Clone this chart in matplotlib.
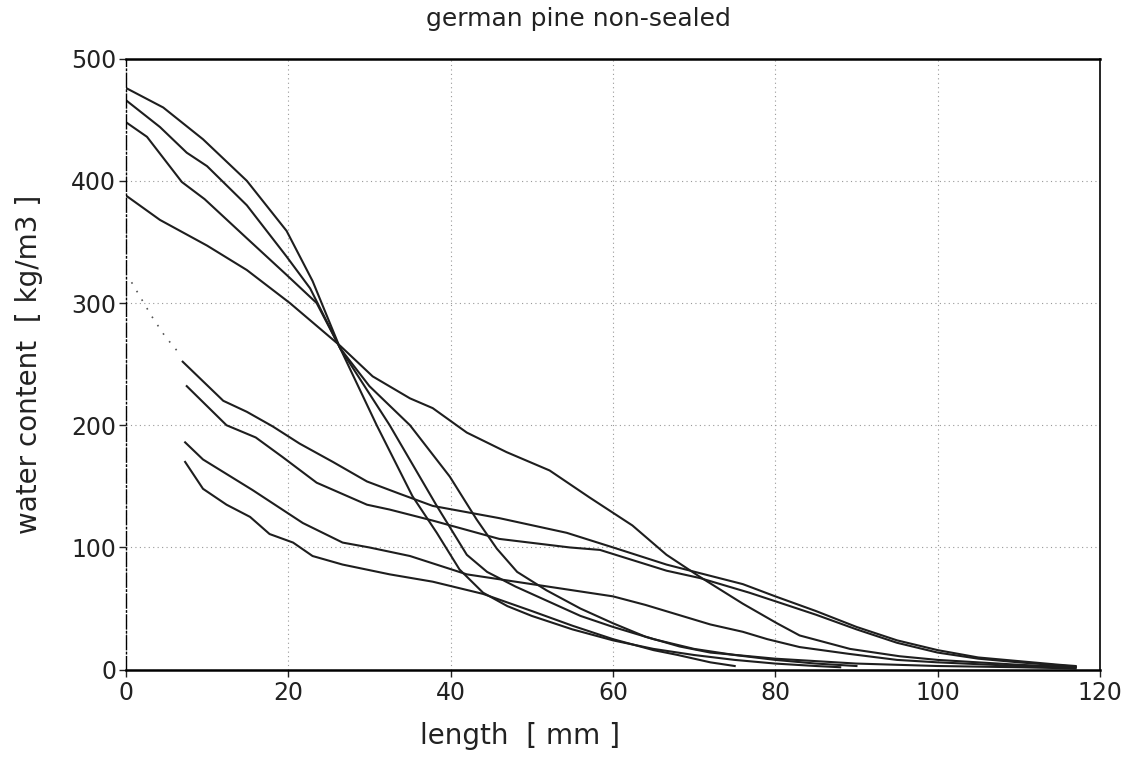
import matplotlib
matplotlib.use("Agg")
import matplotlib.pyplot as plt

# measured profiles, length in mm / water content in kg/m3
a_x = [0, 4.6, 9.5, 14.9, 19.8, 23, 26.4, 30.9, 35.3, 38.3, 41.1, 44, 47, 50, 55, 60, 65, 70, 75, 80, 85, 88]
a_y = [476, 460, 434, 400, 359, 318, 263, 200, 142, 112, 82, 63, 52, 44, 33, 24, 17, 12, 8, 5, 3, 2]

b_x = [0, 4.2, 7.5, 10, 14.9, 19.8, 22.7, 26.4, 32.5, 38.3, 42, 44.5, 48, 52, 56, 60, 65, 70, 75, 80, 85, 90]
b_y = [466, 444, 423, 412, 380, 338, 312, 263, 200, 134, 94, 80, 68, 56, 44, 35, 25, 17, 12, 8, 5, 3]

c_x = [0, 2.6, 6.9, 9.7, 14.9, 19.8, 23.5, 26.4, 30, 35, 39.9, 43.2, 45.7, 48.2, 51.8, 56, 60, 64, 68.2, 72,
       76.8, 80, 85, 90, 95, 100, 105, 110, 117]
c_y = [448, 436, 399, 385, 353, 323, 300, 263, 232, 200, 158, 123, 99, 80, 65, 50, 38, 27, 19, 14,
       11, 9, 7, 5, 4, 3, 2.5, 2, 1]

d_x = [0, 4.2, 10, 14.9, 20.2, 26.4, 30.4, 35, 37.8, 42, 46.9, 52.2, 57.1, 62.4, 66.6, 70.7, 76, 80.2, 83,
       89.2, 95.3, 100, 105, 110, 117]
d_y = [388, 368, 347, 327, 300, 265, 240, 222, 214, 194, 178, 163, 141, 118, 94, 76, 54, 38, 28,
       17, 11, 8, 6, 4, 2]

e_x = [7, 12, 14.9, 18.1, 21.4, 25.5, 29.7, 33.7, 37.8, 46, 54.3, 60.5, 66.6, 70.7, 76, 80, 85, 90, 95,
       100, 105, 110, 115, 117]
e_y = [252, 220, 211, 199, 185, 170, 154, 144, 134, 124, 112, 99, 86, 79, 70, 60, 48, 35, 24,
       16, 10, 7, 4, 3]

f_x = [7.5, 12.4, 16, 19.3, 23.5, 29.7, 32.5, 37.8, 46, 54.7, 58.4, 66.6, 70.7, 76.8, 80, 85, 90, 95,
       100, 105, 110, 115, 117]
f_y = [232, 200, 190, 174, 153, 135, 131, 122, 107, 100, 98, 81, 75, 63, 56, 45, 33, 22,
       14, 9, 6, 3.5, 2.5]

g_x = [7.3, 9.5, 15.6, 21.8, 26.7, 30, 35, 42, 46, 50, 56, 60, 64, 68, 72, 76, 79, 83, 89, 95,
       100, 105, 110, 117]
g_y = [186, 172, 147, 120, 104, 100, 93, 78, 74, 70, 64, 60, 53, 45, 37, 31, 25, 18.5, 13, 8,
       6, 4.5, 3, 2]

h_x = [7.3, 9.5, 12.4, 15.3, 17.7, 20.6, 23, 26.7, 32.5, 37.8, 44, 50, 55, 60, 65, 68, 72, 75]
h_y = [170, 148, 135, 125, 111, 104, 93, 86, 78, 72, 62, 48, 36, 25, 16, 12, 6, 3]

# faint dotted start (barely printed)
dot_x = [0.7, 2.3, 3.2, 4.8, 6.3]
dot_y = [317, 299, 289, 273, 261]

profiles = [(a_x, a_y), (b_x, b_y), (c_x, c_y), (d_x, d_y),
            (e_x, e_y), (f_x, f_y), (g_x, g_y), (h_x, h_y)]

x_ticks = [0, 20, 40, 60, 80, 100, 120]
y_ticks = [0, 100, 200, 300, 400, 500]

plt.rcParams['font.family'] = ['DejaVu Sans']

fig = plt.figure(figsize=(11.34, 7.61), dpi=100)
ax = fig.add_axes([0.111, 0.12, 0.859, 0.803])

ax.grid(True, color='#999999', linestyle=(0, (1, 3)), linewidth=0.8)
ax.set_axisbelow(True)

for xs, ys in profiles:
    ax.plot(xs, ys, color='#1e1e1e', linewidth=1.5)
ax.plot(dot_x, dot_y, color='#555555', linestyle=(0, (1, 5)), linewidth=1.2)

ax.set_xlim(0, 120)
ax.set_ylim(0, 500)
ax.set_xticks(x_ticks)
ax.set_yticks(y_ticks)
ax.tick_params(axis='both', labelsize=17, length=5, width=1, colors='#222222')
ax.tick_params(axis='x', pad=3)
ax.tick_params(axis='y', pad=2)

# scanned frame: dash-dot left edge, heavy top and bottom, thin solid right
ax.spines['left'].set_linestyle((0, (10, 2, 1, 2)))
ax.spines['left'].set_linewidth(1.0)
ax.spines['top'].set_linewidth(1.8)
ax.spines['bottom'].set_linewidth(1.8)
ax.spines['right'].set_linewidth(1.2)

ax.set_xlabel('length  [ mm ]', fontsize=20, color='#222222')
ax.xaxis.set_label_coords(0.405, -0.085)
ax.set_ylabel('water content  [ kg/m3 ]', fontsize=20, color='#222222')
ax.yaxis.set_label_coords(-0.085, 0.5)

fig.text(0.51, 0.975, 'german pine non-sealed', fontsize=18, color='#222222',
         ha='center', va='center')

fig.savefig('out.png', dpi=100)
